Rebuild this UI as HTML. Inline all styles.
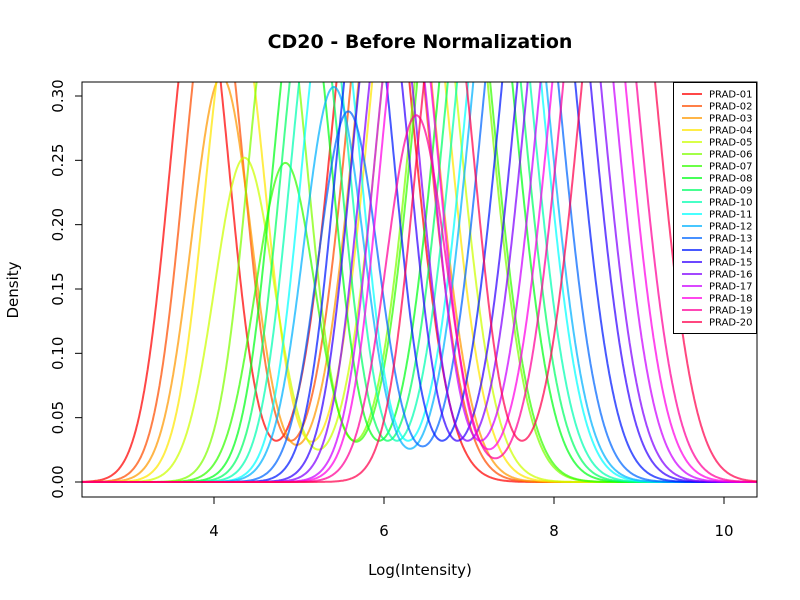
<!DOCTYPE html>
<html><head><meta charset="utf-8"><style>
body{margin:0;background:#fff;font-family:"Liberation Sans","DejaVu Sans",sans-serif}
svg{display:block}
</style></head><body>
<svg id="chart" width="800" height="600" xmlns="http://www.w3.org/2000/svg">
<text x="420" y="48" text-anchor="middle" font-size="19" font-weight="bold" font-family="DejaVu Sans, Liberation Sans, sans-serif">CD20 - Before Normalization</text>
<text x="420" y="575" text-anchor="middle" font-size="15" font-family="DejaVu Sans, Liberation Sans, sans-serif">Log(Intensity)</text>
<text transform="translate(18,290) rotate(-90)" text-anchor="middle" font-size="15" font-family="DejaVu Sans, Liberation Sans, sans-serif">Density</text>
<defs><clipPath id="pc"><rect x="82" y="82" width="675" height="415"/></clipPath></defs>
<g id="curves" clip-path="url(#pc)"></g>
<g id="axes"></g>
<g id="legend"></g>
</svg>
<script>
const samples = ["PRAD-01","PRAD-02","PRAD-03","PRAD-04","PRAD-05","PRAD-06","PRAD-07","PRAD-08","PRAD-09","PRAD-10","PRAD-11","PRAD-12","PRAD-13","PRAD-14","PRAD-15","PRAD-16","PRAD-17","PRAD-18","PRAD-19","PRAD-20"];
const leftMode = [3.83,4.00,4.09,4.25,4.36,4.75,4.84,5.04,5.14,5.25,5.38,5.41,5.58,5.78,5.96,6.08,6.23,6.30,6.38,6.72];
const leftPeak = [0.40,0.40,0.315,0.38,0.252,0.40,0.248,0.40,0.40,0.40,0.40,0.307,0.288,0.40,0.40,0.40,0.40,0.40,0.285,0.40];
const rightMode = [5.87,6.04,6.13,6.29,6.41,6.79,6.82,7.08,7.18,7.29,7.42,7.48,7.62,7.82,8.00,8.12,8.27,8.41,8.54,8.76];
const rightPeak = [0.5,0.5,0.5,0.5,0.5,0.5,0.5,0.5,0.5,0.5,0.5,0.5,0.5,0.5,0.5,0.5,0.5,0.5,0.5,0.5];
const xTicks = [4,6,8,10];
const yTicks = [0,0.05,0.10,0.15,0.20,0.25,0.30];
const yTickLabels = ["0.00","0.05","0.10","0.15","0.20","0.25","0.30"];

const NS="http://www.w3.org/2000/svg";
const X = v => 214 + (v-4)*85;
const Y = v => 482 - v*1286.7;
const sL=0.35, sR=0.44;
const colorOf = i => `hsl(${i*18},100%,50%)`;
function mk(tag, attrs, parent){const e=document.createElementNS(NS,tag);for(const k in attrs)e.setAttribute(k,attrs[k]);parent.appendChild(e);return e;}

const cg=document.getElementById('curves');
samples.forEach((s,i)=>{
  let d="";
  for(let x=2.4;x<=10.45;x+=0.01){
    const y=leftPeak[i]*Math.exp(-Math.pow(x-leftMode[i],2)/(2*sL*sL))+rightPeak[i]*Math.exp(-Math.pow(x-rightMode[i],2)/(2*sR*sR));
    d+=(d?"L":"M")+X(x).toFixed(1)+","+Y(y).toFixed(1);
  }
  const p=mk('path',{d:d,fill:'none',stroke:colorOf(i),'stroke-width':2,'stroke-opacity':0.72},cg);
  
  
});

const ag=document.getElementById('axes');
const box=mk('rect',{x:82,y:82,width:675,height:415,fill:'none',stroke:'#000','stroke-width':1},ag);


mk('line',{x1:X(4),x2:X(10),y1:497,y2:497,stroke:'#000'},ag);
xTicks.forEach(t=>{
  mk('line',{x1:X(t),x2:X(t),y1:497,y2:504,stroke:'#000'},ag);
  const tx=mk('text',{x:X(t),y:536,'text-anchor':'middle','font-size':15,'font-family':'DejaVu Sans, Liberation Sans, sans-serif'},ag);
  tx.textContent=t;
  
  
});
yTicks.forEach((t,j)=>{
  mk('line',{x1:75,x2:82,y1:Y(t),y2:Y(t),stroke:'#000'},ag);
  const tx=mk('text',{transform:`translate(63,${Y(t)}) rotate(-90)`,'text-anchor':'middle','font-size':15,'font-family':'DejaVu Sans, Liberation Sans, sans-serif'},ag);
  tx.textContent=yTickLabels[j];
  
  
});

const lg=document.getElementById('legend');
const lb=mk('rect',{x:673.5,y:82.5,width:83,height:251,fill:'#fff',stroke:'#000'},lg);


samples.forEach((s,i)=>{
  const y=94+i*12;
  const g=mk('g',{},lg);
  
  
  mk('line',{x1:682,x2:702,y1:y,y2:y,stroke:colorOf(i),'stroke-width':2,'stroke-opacity':0.72},g);
  const t=mk('text',{x:709,y:y+3.5,'font-size':10,'font-family':'DejaVu Sans, Liberation Sans, sans-serif'},g);
  t.textContent=s;
});
</script>
</body></html>
